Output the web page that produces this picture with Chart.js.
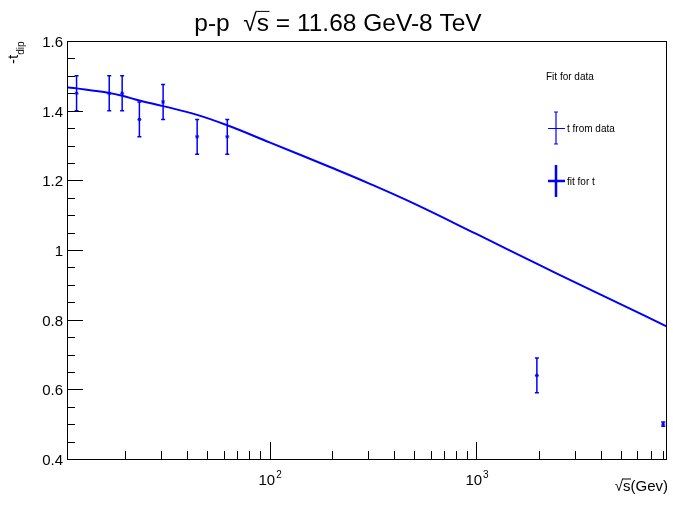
<!DOCTYPE html>
<html>
<head>
<meta charset="utf-8">
<title>t dip vs sqrt(s)</title>
<script src="https://cdn.jsdelivr.net/npm/chart.js@4/dist/chart.umd.min.js"></script>
<style>
  html, body { margin: 0; padding: 0; background: #fff; }
  canvas { display: block; }
</style>
</head>
<body>
<canvas id="tdipChart" width="673" height="506"></canvas>
<script>
// measured points
const energies = [11.68, 16.8, 19.4, 23.5, 30.6, 44.7, 62.5, 1960, 8000];
const tdip = [1.45, 1.45, 1.45, 1.375, 1.425, 1.325, 1.325, 0.64, 0.5];
const tdipErr = [0.05, 0.05, 0.05, 0.05, 0.05, 0.05, 0.05, 0.05, 0.006];

// fitted curve, sampled
const fitX = [10.5, 11.68, 16.8, 19.4, 23.5, 30.6, 44.7, 62.5, 100, 200, 300, 500, 1000, 2000, 3000, 5000, 8340];
const fitY = [1.467, 1.464, 1.451, 1.443, 1.429, 1.413, 1.388, 1.358, 1.309, 1.236, 1.192, 1.133, 1.046, 0.958, 0.907, 0.844, 0.780];

// axis ticks
const yLabels = [0.4, 0.6, 0.8, 1.0, 1.2, 1.4, 1.6];
const yMinor = [0.45, 0.5, 0.55, 0.65, 0.7, 0.75, 0.85, 0.9, 0.95, 1.05, 1.1, 1.15, 1.25, 1.3, 1.35, 1.45, 1.5, 1.55];
const xMajor = [100, 1000];
const xMinor = [20, 30, 40, 50, 60, 70, 80, 90, 200, 300, 400, 500, 600, 700, 800, 900, 2000, 3000, 4000, 5000, 6000, 7000, 8000];

const FONT = '"Liberation Sans", Arial, Helvetica, sans-serif';
const BLUE = '#0000ff';

function toPoints(xs, ys) {
    return xs.map((v, i) => ({ x: v, y: ys[i] }));
}

// draws sqrt sign + "s" with an overline, returns the x where it ends
function drawSqrtS(ctx, x, base, size) {
    ctx.font = `${size}px ${FONT}`;
    ctx.fillText('\u221A', x, base);
    let w1 = ctx.measureText('\u221A').width;
    ctx.fillText('s', x + w1, base);
    let w2 = ctx.measureText('s').width;
    ctx.save();
    ctx.lineWidth = 1;
    ctx.strokeStyle = ctx.fillStyle;
    ctx.beginPath();
    ctx.moveTo(x + w1 - 1, base - size * 0.8);
    ctx.lineTo(x + w1 + w2 + 0.5, base - size * 0.8);
    ctx.stroke();
    ctx.restore();
    return x + w1 + w2;
}

const errorBars = {
    id: 'errorBars',
    afterDatasetsDraw(chart) {
        const ctx = chart.ctx;
        const xs = chart.scales.x, ys = chart.scales.y;
        ctx.save();
        ctx.strokeStyle = BLUE;
        ctx.lineWidth = 1.5;
        energies.forEach((e, i) => {
            let px = xs.getPixelForValue(e);
            let top = ys.getPixelForValue(tdip[i] + tdipErr[i]);
            let bot = ys.getPixelForValue(tdip[i] - tdipErr[i]);
            ctx.beginPath();
            ctx.moveTo(px, top);
            ctx.lineTo(px, bot);
            ctx.moveTo(px - 2, top);
            ctx.lineTo(px + 2, top);
            ctx.moveTo(px - 2, bot);
            ctx.lineTo(px + 2, bot);
            ctx.stroke();
        });
        ctx.restore();
    }
};

const rootFrame = {
    id: 'rootFrame',
    afterDraw(chart) {
        const ctx = chart.ctx;
        const a = chart.chartArea;
        const xs = chart.scales.x, ys = chart.scales.y;
        ctx.save();

        // frame
        ctx.strokeStyle = '#000';
        ctx.lineWidth = 1;
        ctx.strokeRect(a.left + 0.5, a.top + 0.5, a.right - a.left - 1, a.bottom - a.top);

        // y ticks (inside)
        ctx.beginPath();
        yLabels.forEach(v => {
            let py = Math.round(ys.getPixelForValue(v)) + 0.5;
            ctx.moveTo(a.left, py);
            ctx.lineTo(a.left + 16, py);
        });
        yMinor.forEach(v => {
            let py = Math.round(ys.getPixelForValue(v)) + 0.5;
            ctx.moveTo(a.left, py);
            ctx.lineTo(a.left + 8, py);
        });
        // x ticks (inside)
        xMajor.forEach(v => {
            let px = Math.round(xs.getPixelForValue(v)) + 0.5;
            ctx.moveTo(px, a.bottom);
            ctx.lineTo(px, a.bottom - 17);
        });
        xMinor.forEach(v => {
            let px = Math.round(xs.getPixelForValue(v)) + 0.5;
            ctx.moveTo(px, a.bottom);
            ctx.lineTo(px, a.bottom - 8);
        });
        ctx.stroke();

        // y labels
        ctx.fillStyle = '#000';
        ctx.font = `15px ${FONT}`;
        ctx.textAlign = 'right';
        ctx.textBaseline = 'middle';
        yLabels.forEach(v => {
            let txt = Number.isInteger(v) ? String(v) : v.toFixed(1);
            ctx.fillText(txt, a.left - 4, ys.getPixelForValue(v) + 2);
        });

        // x labels 10^n
        ctx.textAlign = 'left';
        ctx.textBaseline = 'alphabetic';
        xMajor.forEach(v => {
            let px = xs.getPixelForValue(v);
            ctx.font = `15px ${FONT}`;
            let w = ctx.measureText('10').width;
            ctx.fillText('10', px - 11, 485);
            ctx.font = `10px ${FONT}`;
            ctx.fillText(String(Math.round(Math.log10(v))), px - 11 + w + 1, 478);
        });

        // title
        ctx.font = `24.5px ${FONT}`;
        let partA = 'p-p  ', partB = ' = 11.68 GeV-8 TeV';
        let total = ctx.measureText(partA + '\u221As' + partB).width;
        let tx = 338 - total / 2;
        ctx.fillText(partA, tx, 31);
        tx += ctx.measureText(partA).width;
        tx = drawSqrtS(ctx, tx, 31, 24.5);
        ctx.font = `24.5px ${FONT}`;
        ctx.fillText(partB, tx, 31);

        // x axis title, right aligned
        ctx.font = `15px ${FONT}`;
        let xt = '(Gev)';
        let wx = ctx.measureText('\u221As' + xt).width;
        let sx = drawSqrtS(ctx, 668 - wx, 491, 15);
        ctx.font = `15px ${FONT}`;
        ctx.fillText(xt, sx, 491);

        // y axis title
        ctx.save();
        ctx.translate(18, 64);
        ctx.rotate(-Math.PI / 2);
        ctx.font = `15px ${FONT}`;
        ctx.fillText('-t', 0, 0);
        let wt = ctx.measureText('-t').width;
        ctx.font = `10px ${FONT}`;
        ctx.fillText('dip', wt, 6);
        ctx.restore();

        // legend
        ctx.font = `10px ${FONT}`;
        ctx.fillText('Fit for data', 546, 80);
        ctx.fillText('t from data', 567, 132);
        ctx.fillText('fit for t', 567, 185);

        ctx.strokeStyle = BLUE;
        ctx.lineWidth = 1.2;
        ctx.beginPath();
        ctx.moveTo(556, 112); ctx.lineTo(556, 144);
        ctx.moveTo(554, 112); ctx.lineTo(558, 112);
        ctx.moveTo(554, 144); ctx.lineTo(558, 144);
        ctx.moveTo(548, 128.5); ctx.lineTo(565, 128.5);
        ctx.stroke();

        ctx.lineWidth = 2.5;
        ctx.beginPath();
        ctx.moveTo(556, 165); ctx.lineTo(556, 197);
        ctx.moveTo(548, 181); ctx.lineTo(565, 181);
        ctx.stroke();

        ctx.restore();
    }
};

let tdipChart = new Chart(document.getElementById('tdipChart'), {
    type: 'scatter',
    data: {
        datasets: [{
            label: 'fit for t',
            data: toPoints(fitX, fitY),
            showLine: true,
            borderColor: BLUE,
            borderWidth: 2,
            pointRadius: 0,
            tension: 0.4
        }, {
            label: 't from data',
            data: toPoints(energies, tdip),
            pointStyle: 'star',
            pointRadius: 2,
            borderColor: BLUE,
            backgroundColor: BLUE,
            borderWidth: 1
        }]
    },
    options: {
        responsive: false,
        animation: false,
        devicePixelRatio: 1,
        layout: { padding: { left: 67, right: 6, top: 41, bottom: 47 } },
        scales: {
            x: { type: 'logarithmic', min: 10.5, max: 8340, display: false },
            y: { type: 'linear', min: 0.4, max: 1.6, display: false }
        },
        plugins: {
            legend: { display: false },
            tooltip: { enabled: false },
            title: { display: false }
        }
    },
    plugins: [errorBars, rootFrame]
});
</script>
</body>
</html>
